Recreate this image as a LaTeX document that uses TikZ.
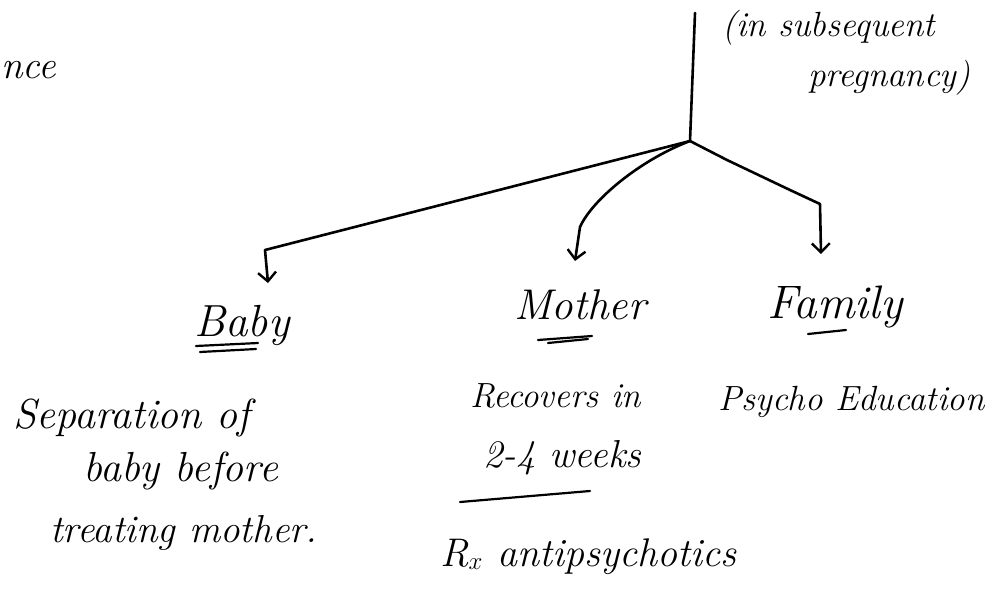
\documentclass[tikz,border=0pt]{standalone}
\usepackage{tikz}
\usetikzlibrary{arrows.meta,positioning,calc}
\newcommand{\handsz}[1]{\fontsize{#1}{#1}\selectfont\itshape}
\tikzset{hand/.style={inner sep=0pt,anchor=base west,font=\handsz{39}},head/.style={inner sep=0pt,anchor=base,font=\handsz{45}},line/.style={line width=2.6pt,line cap=round,line join=round},arr/.style={line,-{Straight Barb[length=9pt,width=18pt,line width=2.4pt]}},ul/.style={line width=2.2pt,line cap=round}}

\begin{document}
\begin{tikzpicture}[x=1pt,y=-1pt]
\useasboundingbox (0,0) rectangle (987,595);
\node[hand] (cut) at (1,78) {nce};
\node[hand,font=\handsz{35}] (note1) at (722,36) {(in subsequent};
\node[hand,font=\handsz{35}] (note2) at (808,86) {pregnancy)};
\coordinate (top) at (695,13); \coordinate (j) at (690,141);
\node[head] (baby) at (242,336) {Baby};
\node[head,font=\handsz{43}] (mother) at (580,319) {Mother};
\node[head,font=\handsz{47}] (family) at (835,318) {Family};
\node[hand,font=\handsz{42}] (sep1) at (13,428) {Separation of};
\node[hand,font=\handsz{42}] (sep2) at (83,481) {baby before};
\node[hand] (sep3) at (50,542) {treating mother.};
\node[hand,font=\handsz{35}] (rec1) at (470,407) {Recovers in};
\node[hand] (rec2) at (483,467) {2-4 weeks};
\node[hand,font=\handsz{40}] (rx) at (440,566) {R$_x$ antipsychotics};
\node[hand,font=\handsz{35}] (psy) at (718,410) {Psycho Education};
\draw[line] (top) -- (j);
\draw[arr] (j) -- (265,250) -- (268,283);
\draw[arr] (j) .. controls (640,160) and (592,200) .. (580,227) -- (575,261);
\draw[arr] (j) -- (727,160) -- (790,190) -- (820,204) -- (821,254);
% underlines
\draw[ul] (196,346) -- (258,343); \draw[ul] (200,352) -- (256,349);
\draw[ul] (538,340) -- (592,336); \draw[ul] (548,343) -- (588,339);
\draw[ul] (808,334) -- (846,330);
\draw[ul] (460,502) -- (590,491);
\end{tikzpicture}
\end{document}
